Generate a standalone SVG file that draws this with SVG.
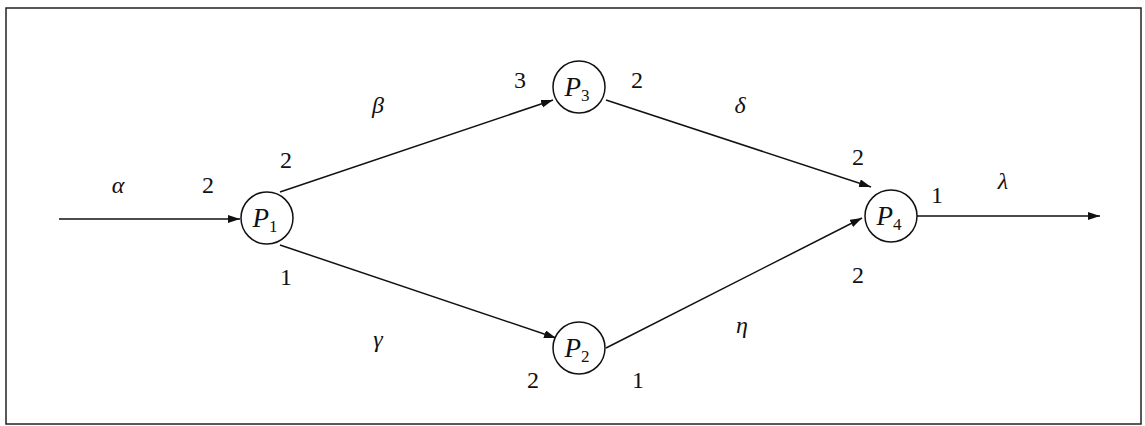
<svg xmlns="http://www.w3.org/2000/svg" width="1145" height="426" viewBox="0 0 1145 426">
<defs>
<marker id="arr" markerUnits="userSpaceOnUse" markerWidth="13" markerHeight="9" refX="12" refY="4" orient="auto">
<path d="M0,0 L12,4 L0,8 z" fill="#111"/>
</marker>
</defs>
<rect x="6" y="8" width="1135" height="416" fill="#fff" stroke="#222" stroke-width="1.5"/>
<g id="connectors" stroke="#111" stroke-width="1.5" fill="none">
<line x1="59" y1="219" x2="240" y2="219" marker-end="url(#arr)"/>
<line x1="280" y1="192" x2="553" y2="100" marker-end="url(#arr)"/>
<line x1="280" y1="245" x2="556" y2="338" marker-end="url(#arr)"/>
<line x1="606" y1="100" x2="871" y2="187" marker-end="url(#arr)"/>
<line x1="606" y1="348" x2="862" y2="218" marker-end="url(#arr)"/>
<line x1="917" y1="216" x2="1100" y2="216" marker-end="url(#arr)"/>
</g>
<g font-family="Liberation Serif, serif" fill="#111" text-anchor="middle">
<g id="P1"><circle cx="267" cy="218" r="26" fill="#fff" stroke="#111" stroke-width="1.5"/><text x="265" y="227" font-size="27" font-style="italic">P<tspan font-size="17" font-style="normal" dy="5">1</tspan></text></g>
<g id="P3"><circle cx="579" cy="87" r="26" fill="#fff" stroke="#111" stroke-width="1.5"/><text x="577" y="96" font-size="27" font-style="italic">P<tspan font-size="17" font-style="normal" dy="5">3</tspan></text></g>
<g id="P2"><circle cx="579" cy="348" r="26" fill="#fff" stroke="#111" stroke-width="1.5"/><text x="577" y="357" font-size="27" font-style="italic">P<tspan font-size="17" font-style="normal" dy="5">2</tspan></text></g>
<g id="P4"><circle cx="891" cy="216" r="26" fill="#fff" stroke="#111" stroke-width="1.5"/><text x="889" y="225" font-size="27" font-style="italic">P<tspan font-size="17" font-style="normal" dy="5">4</tspan></text></g>
<g id="labels" font-size="24">
<text font-style="italic" x="118" y="193">α</text>
<text x="208" y="193">2</text>
<text font-style="italic" x="378" y="113">β</text>
<text x="286" y="168">2</text>
<text x="286" y="285">1</text>
<text font-style="italic" x="378" y="347">γ</text>
<text x="520" y="88">3</text>
<text x="637" y="88">2</text>
<text font-style="italic" x="740" y="113">δ</text>
<text font-style="italic" x="742" y="333">η</text>
<text x="533" y="388">2</text>
<text x="638" y="388">1</text>
<text x="858" y="165">2</text>
<text x="937" y="203">1</text>
<text font-style="italic" x="1003" y="189">λ</text>
<text x="858" y="283">2</text>
</g>
</g>
</svg>
